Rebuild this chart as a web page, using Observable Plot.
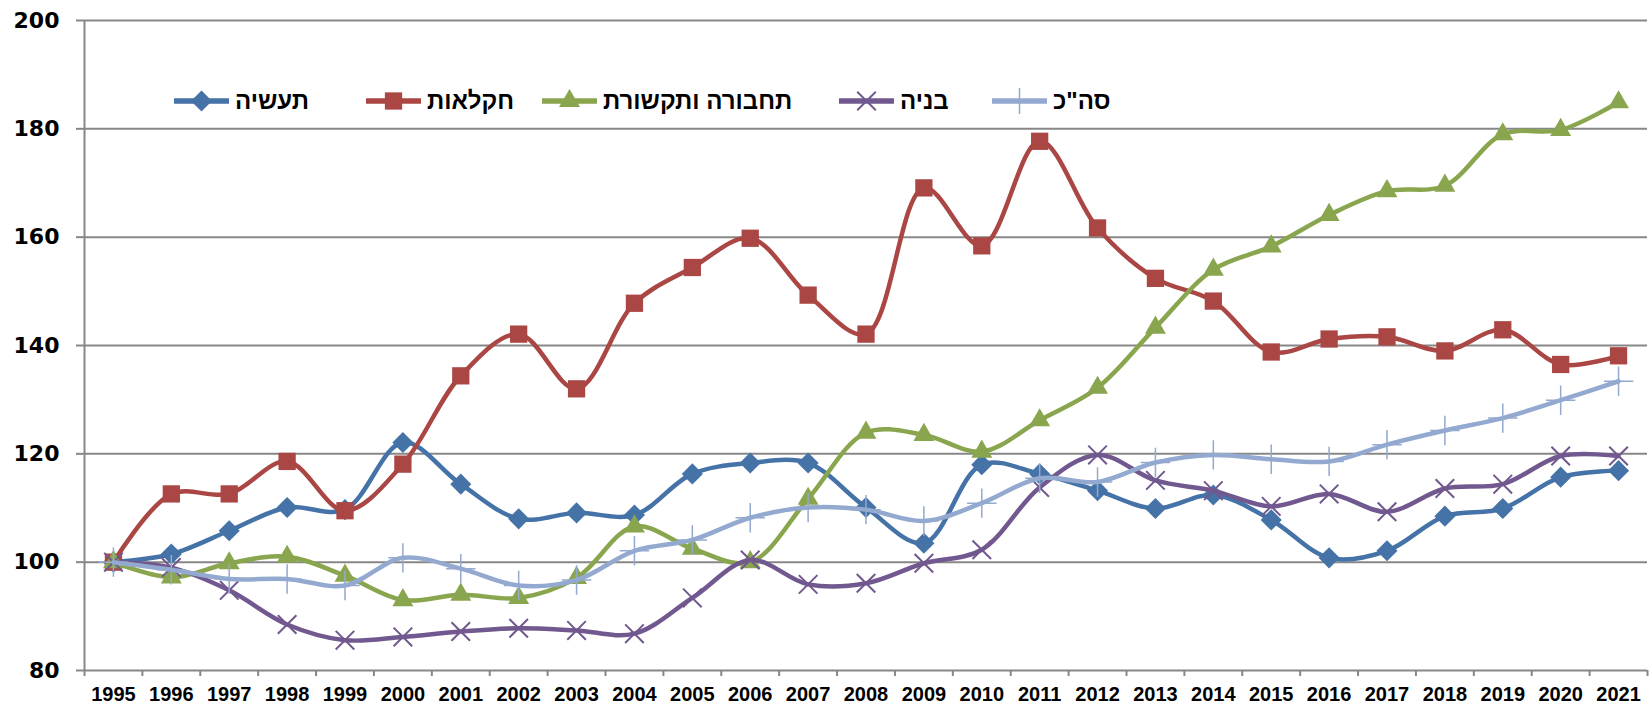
<!DOCTYPE html>
<html>
<head>
<meta charset="utf-8">
<script src="https://cdn.jsdelivr.net/npm/d3@7"></script>
<script src="https://cdn.jsdelivr.net/npm/@observablehq/plot@0.6"></script>
<style>
  body { margin: 0; background: #fff; }
  #wrap { position: relative; width: 1649px; height: 703px; }
  .leg { position: absolute; top: 87px; display: flex; align-items: center; font-family: "Liberation Sans", Arial, sans-serif; font-weight: bold; font-size: 24px; color: #000; white-space: nowrap; }
  .leg span { margin-left: 6px; direction: rtl; }
</style>
</head>
<body>
<div id="wrap"></div>
<script>
const years = [1995,1996,1997,1998,1999,2000,2001,2002,2003,2004,2005,2006,2007,2008,2009,2010,2011,2012,2013,2014,2015,2016,2017,2018,2019,2020,2021];
const yTicks = [80,100,120,140,160,180,200];

const seriesNames = ["תעשיה", "חקלאות", "תחבורה ותקשורת", "בניה", "סה\"כ"];
const industry     = [100,101.5,105.8,110.1,109.7,122.1,114.4,108,109.1,108.7,116.3,118.3,118.3,110.1,103.5,118,116.3,113.2,109.9,112.4,107.8,100.8,102.1,108.5,109.9,115.7,116.9];
const agriculture  = [100,112.6,112.6,118.6,109.5,118.1,134.4,142.1,132,147.8,154.4,159.8,149.3,142.1,169.1,158.4,177.7,161.7,152.4,148.2,138.8,141.2,141.6,139,142.9,136.5,138.1];
const transport    = [100,97.2,99.8,101,97.5,93,94,93.4,97.1,106.6,102.5,100,111.7,123.9,123.5,120.4,126.2,132.2,143.3,154,158.3,164.1,168.5,169.5,179,179.8,184.9];
const construction = [100,99,94.8,88.5,85.6,86.2,87.2,87.8,87.4,86.8,93.4,100.4,95.9,96.1,99.8,102.3,113.8,119.8,115.1,113.2,110.3,112.6,109.3,113.6,114.4,119.6,119.6];
const total        = [100,98.6,96.9,96.9,95.7,100.8,98.8,95.7,96.7,102.1,104.1,108.2,110.1,109.7,107.6,110.9,115.5,114.8,118.4,119.8,119,118.6,121.7,124.3,126.6,129.9,133.4];

const seriesValues = [industry, agriculture, transport, construction, total];
const colors  = ["#4572A7", "#AA4643", "#89A54E", "#71588F", "#93A9D0"];
const symbols = ["diamond2", "square2", "triangle2", "times", "plus"];
const symR    = [9.5, 11, 10, 8.5, 9.5];
const symFilled = [true, true, true, false, false];
const legendLeft = [174, 366, 542, 839, 992];

const gray = "#878787";
const boundaries = years.map(y => y - 0.5).concat([years[years.length - 1] + 0.5]);

const marks = [
  Plot.ruleY(yTicks.filter(d => d > 80), {stroke: gray, strokeWidth: 2}),
  Plot.ruleY([80], {stroke: gray, strokeWidth: 2}),
  Plot.ruleX([boundaries[0]], {stroke: gray, strokeWidth: 2}),
  Plot.axisY({ticks: yTicks, tickSize: 8, tickPadding: 17, stroke: gray, strokeWidth: 2, fill: "#000",
              fontSize: 22, fontWeight: "bold", fontFamily: "DejaVu Sans", tickFormat: d => String(d), label: null}),
  Plot.axisX({ticks: boundaries, tickSize: 6, stroke: gray, strokeWidth: 2, tickFormat: () => "", label: null}),
  Plot.axisX({ticks: years, tickSize: 0, tickPadding: 16, fill: "#000", fontSize: 20, fontWeight: "bold",
              fontFamily: "Liberation Sans Narrow, Liberation Sans, Arial Narrow, sans-serif", tickFormat: d => String(d), label: null})
];

seriesValues.forEach((vals, i) => {
  const data = years.map((y, j) => ({year: y, value: vals[j]}));
  marks.push(Plot.line(data, {x: "year", y: "value", stroke: colors[i], strokeWidth: 4.5, curve: "catmull-rom"}));
  marks.push(Plot.dot(data, {x: "year", y: "value", symbol: () => symbols[i], r: symR[i],
    fill: symFilled[i] ? colors[i] : "none", stroke: colors[i], strokeWidth: symFilled[i] ? 0 : (i === 4 ? 1.5 : 2)}));
});

const chart = Plot.plot({
  width: 1649,
  height: 703,
  marginLeft: 84,
  marginRight: 2,
  marginTop: 20,
  marginBottom: 33,
  x: {type: "linear", domain: [boundaries[0], boundaries[boundaries.length - 1]], axis: null},
  y: {domain: [80, 200], axis: null},
  symbol: {type: "identity"},
  style: {background: "#fff", overflow: "visible"},
  marks
});

const wrap = document.getElementById("wrap");
wrap.appendChild(chart);

seriesNames.forEach((name, i) => {
  const div = document.createElement("div");
  div.className = "leg";
  div.style.left = legendLeft[i] + "px";
  const svg = d3.create("svg").attr("width", 55).attr("height", 26);
  svg.append("line").attr("x1", 0).attr("x2", 55).attr("y1", 13).attr("y2", 13)
    .attr("stroke", colors[i]).attr("stroke-width", 5.5).attr("stroke-linecap", "round");
  const symMap = {diamond2: d3.symbolDiamond2, square2: d3.symbolSquare2, triangle2: d3.symbolTriangle2, times: d3.symbolTimes, plus: d3.symbolPlus};
  const size = Math.PI * symR[i] * symR[i];
  svg.append("path").attr("transform", "translate(27.5,13)")
    .attr("d", d3.symbol(symMap[symbols[i]], size)())
    .attr("fill", symFilled[i] ? colors[i] : "none")
    .attr("stroke", symFilled[i] ? "none" : colors[i])
    .attr("stroke-width", i === 4 ? 1.5 : 2);
  div.appendChild(svg.node());
  const span = document.createElement("span");
  span.textContent = name;
  div.appendChild(span);
  wrap.appendChild(div);
});
</script>
</body>
</html>
